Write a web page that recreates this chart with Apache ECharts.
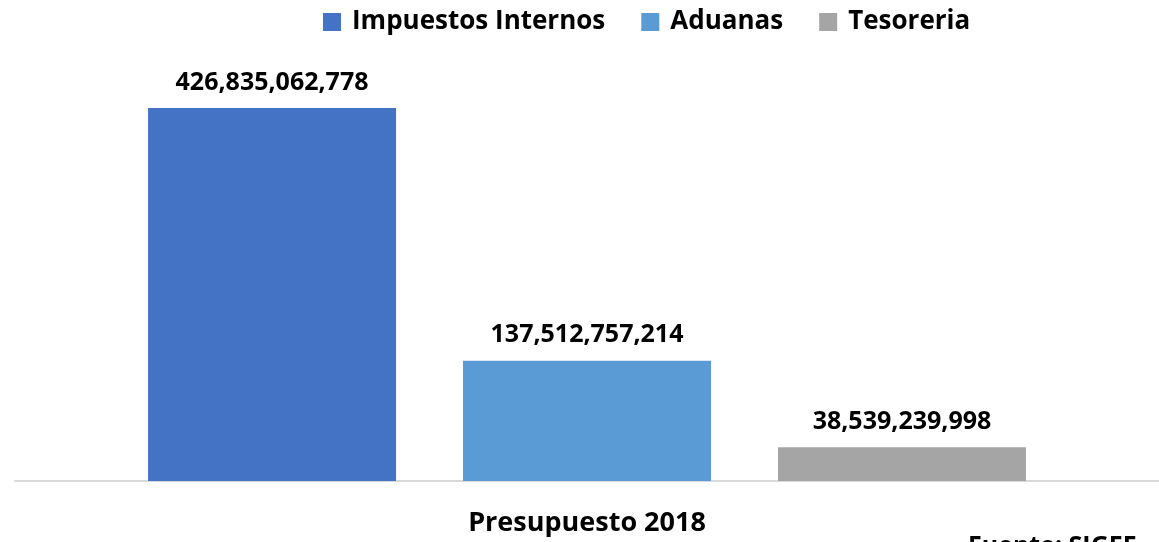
<!DOCTYPE html>
<html lang="es">
<head>
    <meta charset="UTF-8">
    <title>Presupuesto 2018</title>
    <script src="https://cdn.jsdelivr.net/npm/echarts@6/dist/echarts.min.js"></script>
    <style>
        html, body { margin: 0; padding: 0; background: #fff; }
        #main { width: 1159px; height: 542px; }
    </style>
</head>
<body>
<div id="main"></div>
<script>
    // datos
    var categorias = ['Presupuesto 2018'];
    var seriesNombres = ['Impuestos Internos', 'Aduanas', 'Tesoreria'];
    var impuestosInternos = [426835062778];
    var aduanas = [137512757214];
    var tesoreria = [38539239998];
    var colores = ['#4472c4', '#5b9bd5', '#a5a5a5'];

    var fuente = '"Open Sans", "DejaVu Sans", sans-serif';

    function fmt(v) {
        return String(v).replace(/\B(?=(\d{3})+(?!\d))/g, ',');
    }

    function serie(nombre, datos, color) {
        return {
            name: nombre,
            type: 'bar',
            data: datos,
            barWidth: 248,
            barGap: '27%',
            itemStyle: { color: color },
            label: {
                show: true,
                position: 'top',
                distance: 13,
                color: '#000',
                fontFamily: fuente,
                fontWeight: 'bold',
                fontSize: 25,
                formatter: function (p) { return fmt(p.value); }
            }
        };
    }

    var chart = echarts.init(document.getElementById('main'));
    chart.setOption({
        animation: false,
        textStyle: { fontFamily: fuente },
        legend: {
            top: 4,
            left: 318,
            itemWidth: 18,
            itemHeight: 18,
            itemGap: 36,
            icon: 'rect',
            textStyle: {
                fontFamily: fuente, fontWeight: 'bold', fontSize: 26, color: '#000',
                padding: [0, 0, 0, 6]
            },
            data: seriesNombres
        },
        grid: { left: 15, right: 0, top: 60, bottom: 61 },
        xAxis: {
            type: 'category',
            data: categorias,
            axisLine: { lineStyle: { color: '#d9d9d9', width: 2 } },
            axisTick: { show: false },
            axisLabel: {
                margin: 29,
                color: '#000',
                fontFamily: fuente,
                fontWeight: 'bold',
                fontSize: 27
            }
        },
        yAxis: {
            type: 'value',
            min: 0,
            max: 481800000000,
            show: false,
            splitLine: { show: false }
        },
        graphic: [{
            type: 'text',
            left: 968,
            top: 534,
            style: {
                text: 'Fuente: SIGEF',
                fill: '#000',
                font: 'bold 25px ' + fuente
            }
        }],
        series: [
            serie(seriesNombres[0], impuestosInternos, colores[0]),
            serie(seriesNombres[1], aduanas, colores[1]),
            serie(seriesNombres[2], tesoreria, colores[2])
        ]
    });
</script>
</body>
</html>
